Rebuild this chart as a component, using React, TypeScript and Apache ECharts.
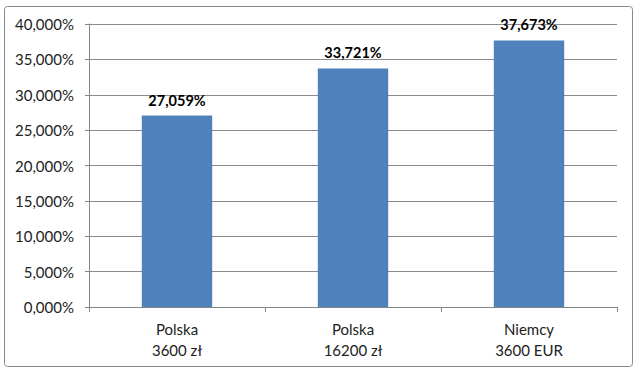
import React, { useEffect, useRef } from "react";
import * as echarts from "echarts";

const categories = ["Polska\n3600 zł", "Polska\n16200 zł", "Niemcy\n3600 EUR"];
const values = [27.059, 33.721, 37.673];
const yMin = 0;
const yMax = 40;
const yInterval = 5;

const fmt = (v: number) => v.toFixed(3).replace(".", ",") + "%";

export default function App() {
  const ref = useRef<HTMLDivElement>(null);
  useEffect(() => {
    if (!ref.current) return;
    const chart = echarts.init(ref.current, null, { renderer: "svg" });
    chart.setOption({
      animation: false,
      backgroundColor: "#ffffff",
      textStyle: { fontFamily: "Lato" },
      graphic: [
        {
          type: "rect",
          shape: { x: 4.5, y: 6.5, width: 628, height: 360, r: 3 },
          style: { fill: "none", stroke: "#8a8a8a", lineWidth: 1 },
          silent: true,
        },
      ],
      grid: { left: 89, right: 23, top: 24, bottom: 67 },
      xAxis: {
        type: "category",
        data: categories,
        axisLine: { lineStyle: { color: "#868686" } },
        axisTick: { show: true, length: 5, lineStyle: { color: "#868686" } },
        axisLabel: {
          color: "#222",
          fontSize: 15,
          fontFamily: "Lato",
          lineHeight: 21,
          margin: 11,
        },
      },
      yAxis: {
        type: "value",
        min: yMin,
        max: yMax,
        interval: yInterval,
        axisLine: { show: true, lineStyle: { color: "#868686" } },
        axisTick: { show: true, length: 4, lineStyle: { color: "#868686" } },
        splitLine: { lineStyle: { color: "#8c8c8c" } },
        axisLabel: {
          color: "#222",
          fontSize: 15,
          fontFamily: "Lato",
          margin: 15,
          formatter: (v: number) => fmt(v),
        },
      },
      series: [
        {
          type: "bar",
          data: values,
          barWidth: "40%",
          itemStyle: { color: "#4F81BD" },
          label: {
            show: true,
            position: "top",
            distance: 8,
            color: "#000",
            fontWeight: "bold",
            fontSize: 14.5,
            fontFamily: "Lato",
            formatter: (p: any) => fmt(p.value),
          },
        },
      ],
    });
    return () => chart.dispose();
  }, []);
  return (
    <div
      ref={ref}
      style={{ position: "fixed", left: 0, top: 0, width: 640, height: 374 }}
    />
  );
}
